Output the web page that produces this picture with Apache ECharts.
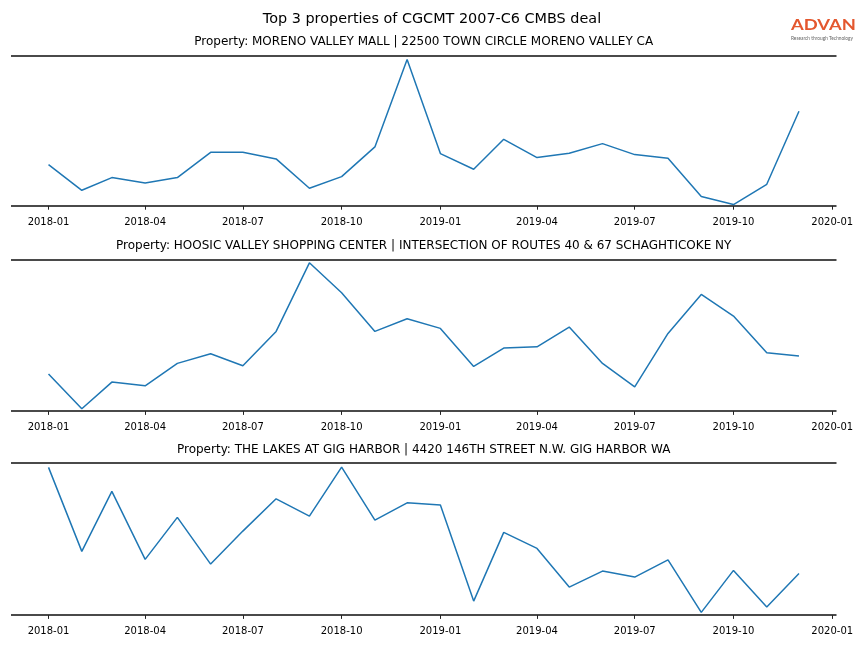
<!DOCTYPE html>
<html>
<head>
<meta charset="utf-8">
<script src="https://cdn.jsdelivr.net/npm/echarts@6/dist/echarts.min.js"></script>
<style>html,body{margin:0;padding:0;background:#fff}#c{width:864px;height:648px}</style>
</head>
<body>
<div id="c"></div>
<script>
// ---- data ----
const months = ['2018-01','2018-02','2018-03','2018-04','2018-05','2018-06','2018-07','2018-08','2018-09','2018-10','2018-11','2018-12',
                '2019-01','2019-02','2019-03','2019-04','2019-05','2019-06','2019-07','2019-08','2019-09','2019-10','2019-11','2019-12'];
const tickLabels = ['2018-01','2018-04','2018-07','2018-10','2019-01','2019-04','2019-07','2019-10','2020-01'];
const mainTitle = 'Top 3 properties of CGCMT 2007-C6 CMBS deal';
const propertyTitles = [
  'Property: MORENO VALLEY MALL | 22500 TOWN CIRCLE MORENO VALLEY CA',
  'Property: HOOSIC VALLEY SHOPPING CENTER | INTERSECTION OF ROUTES 40 & 67 SCHAGHTICOKE NY',
  'Property: THE LAKES AT GIG HARBOR | 4420 146TH STREET N.W. GIG HARBOR WA'
];
const morenoValley = [41.3, 15.6, 28.3, 23, 28.3, 53.6, 53.6, 47, 17.6, 29.3, 59, 146.3,
                      52.3, 36.6, 66.6, 48.3, 52.6, 62.3, 51.3, 47.6, 9.3, 1.3, 21.6, 94.6];
const hoosicValley = [37, 2.3, 29, 25.3, 47.7, 57.3, 45.3, 79.7, 148.3, 118.3, 79.7, 92.3,
                      82.7, 44.7, 63, 64.3, 84, 47.7, 24.3, 77.7, 116.7, 95, 58.3, 55];
const lakesGigHarbor = [147.7, 63.7, 123.7, 55.7, 97.7, 51, 84, 116.3, 99, 148, 95, 112.3,
                        110, 14, 82.7, 66.7, 28, 44, 38, 55.3, 2.7, 44.7, 8, 41.7];
const seriesValues = [morenoValley, hoosicValley, lakesGigHarbor];

// ---- layout ----
const DAY = 86400000;
const toTs = s => Date.UTC(+s.slice(0, 4), +s.slice(5, 7) - 1, 1);
const xMin = toTs(months[0]) - 34.95 * DAY;
const xMax = toTs(months[months.length - 1]) + 34.95 * DAY;
const tickValues = tickLabels.map(toTs);
const fmt = v => {
  let best = 0;
  tickValues.forEach((t, k) => { if (Math.abs(t - v) < Math.abs(tickValues[best] - v)) best = k; });
  return tickLabels[best];
};

const panels = [
  { top: 55.9, height: 150, yMax: 150, titleY: 41.8 },
  { top: 260.1, height: 151, yMax: 151, titleY: 246.1 },
  { top: 462.5, height: 152.6, yMax: 152.6, titleY: 449.8 }
];
const FONT = 'DejaVu Sans';

const option = {
  animation: false,
  backgroundColor: '#fff',
  grid: panels.map(p => ({ left: 11, right: 27.5, top: p.top, height: p.height })),
  xAxis: panels.map((p, i) => ({
    type: 'value', gridIndex: i, min: xMin, max: xMax, offset: 6,
    axisLine: { show: false },
    axisTick: { show: true, customValues: tickValues, length: 3.8, lineStyle: { color: '#222', width: 1 } },
    axisLabel: { customValues: tickValues, formatter: fmt, fontSize: 10, color: '#000', fontFamily: FONT, margin: 5.5 },
    splitLine: { show: false }
  })),
  yAxis: panels.map((p, i) => ({
    type: 'value', gridIndex: i, min: 0, max: p.yMax, interval: p.yMax,
    axisLine: { show: false }, axisTick: { show: false }, axisLabel: { show: false },
    splitLine: { show: true, lineStyle: { color: '#4a4a4a', width: 2 } }
  })),
  series: seriesValues.map((vals, i) => ({
    type: 'line', xAxisIndex: i, yAxisIndex: i,
    data: months.map((m, j) => [toTs(m), vals[j]]),
    symbol: 'none', showSymbol: false,
    lineStyle: { color: '#1f77b4', width: 1.5 },
    itemStyle: { color: '#1f77b4' }
  })),
  graphic: [
    { type: 'text', x: 432, y: 19.1, style: { text: mainTitle, fontSize: 14.4, fontFamily: FONT, fill: '#000', textAlign: 'center', textVerticalAlign: 'middle' } },
    ...panels.map((p, i) => ({ type: 'text', x: 423.7, y: p.titleY, style: { text: propertyTitles[i], fontSize: 12, fontFamily: FONT, fill: '#000', textAlign: 'center', textVerticalAlign: 'middle' } })),
    { type: 'text', x: 791, y: 17.5, scaleX: 1.2, style: { text: 'ADVAN', fontSize: 15.3, fontWeight: 'bold', fontFamily: 'Lato', fill: '#e4572e', textAlign: 'left', textVerticalAlign: 'top' } },
    { type: 'text', x: 791, y: 35.5, style: { text: 'Research through Technology', fontSize: 4.8, fontFamily: 'Lato', fill: '#666', textAlign: 'left', textVerticalAlign: 'top' } }
  ]
};

const chart = echarts.init(document.getElementById('c'), null, { renderer: 'canvas', width: 864, height: 648 });
chart.setOption(option);
</script>
</body>
</html>
